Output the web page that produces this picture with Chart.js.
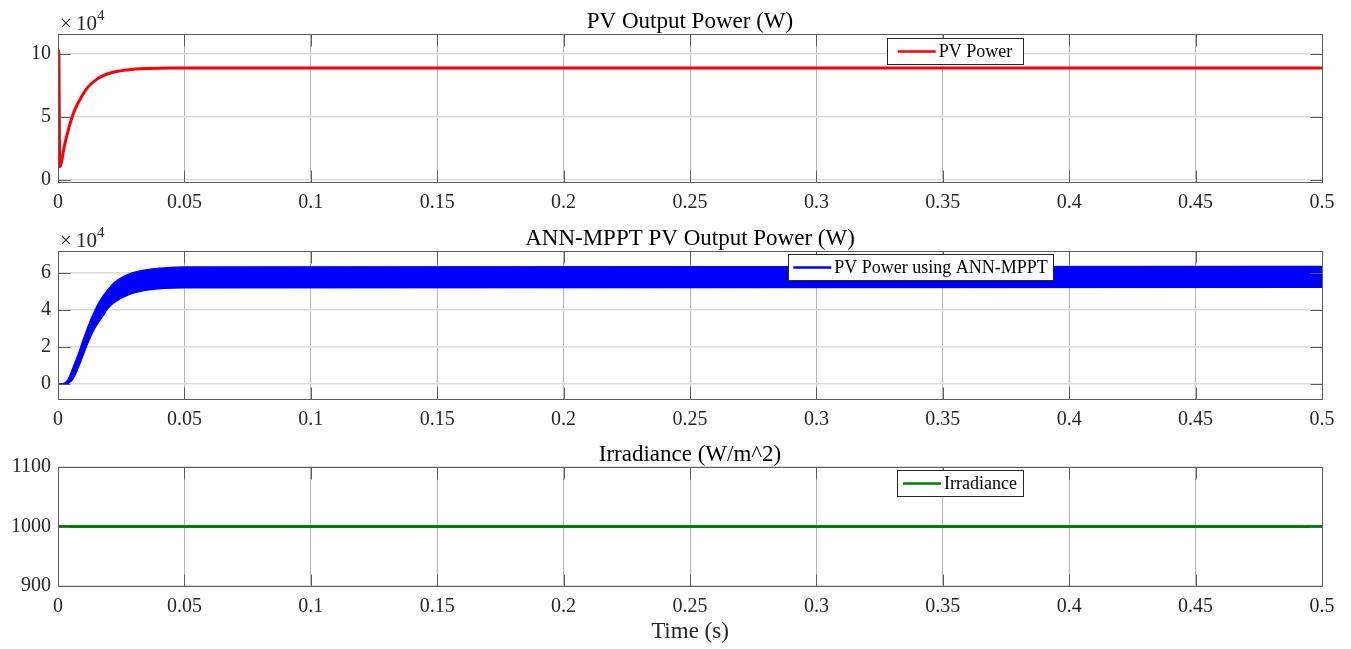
<!DOCTYPE html>
<html>
<head>
<meta charset="utf-8">
<title>PV output power</title>
<script src="https://cdn.jsdelivr.net/npm/chart.js@4.4.1/dist/chart.umd.min.js"></script>
<style>
  body { margin: 0; background: #fff; }
  #fig { position: relative; width: 1351px; height: 649px; }
  .panel { position: absolute; left: 0; width: 1351px; }
</style>
</head>
<body>
<div id="fig">
  <div class="panel" style="top:0;height:215px"><canvas id="c1" width="1351" height="215"></canvas></div>
  <div class="panel" style="top:215px;height:215px"><canvas id="c2" width="1351" height="215"></canvas></div>
  <div class="panel" style="top:430px;height:219px"><canvas id="c3" width="1351" height="219"></canvas></div>
</div>
<script>
const FONT = "'Liberation Serif', 'Times New Roman', serif";

// time axis (s)
const xTicks = [0, 0.05, 0.1, 0.15, 0.2, 0.25, 0.3, 0.35, 0.4, 0.45, 0.5];
const xTickLabels = ['0', '0.05', '0.1', '0.15', '0.2', '0.25', '0.3', '0.35', '0.4', '0.45', '0.5'];

// panel 1 - PV power (W)
const pvTime  = [0, 0.0003, 0.0007, 0.0026, 0.0046, 0.0066, 0.0093, 0.0119, 0.0158, 0.0211, 0.0277, 0.0356, 0.045, 0.5];
const pvPower = [103000, 103000, 10600, 27800, 43700, 55600, 66100, 74000, 80700, 85200, 87500, 88600, 89100, 89100];
const pvTicks = [0, 50000, 100000];
const pvTickLabels = ['0', '5', '10'];

// panel 2 - PV power with ANN-MPPT (W), ripple band
const annTime  = [0, 0.002, 0.004, 0.006, 0.008, 0.010, 0.012, 0.014, 0.016, 0.018, 0.020, 0.022, 0.025, 0.028, 0.032, 0.036, 0.042, 0.050, 0.5];
const annUpper = [0, 300, 2500, 9000, 16000, 24000, 31500, 38000, 43500, 48000, 51500, 54500, 57500, 59500, 61000, 62000, 62800, 63300, 63600];
const annLower = [0, 0, 500, 3000, 9000, 16000, 23000, 29000, 33500, 37500, 41500, 44000, 46500, 48500, 50000, 51000, 51800, 52200, 52400];
const annTicks = [0, 20000, 40000, 60000];
const annTickLabels = ['0', '2', '4', '6'];

// panel 3 - irradiance (W/m^2)
const irrTime = [0, 0.5];
const irradiance = [1000, 1000];
const irrTicks = [900, 1000, 1100];
const irrTickLabels = ['900', '1000', '1100'];

function xy(xs, ys) {
  return xs.map((x, i) => ({ x: x, y: ys[i] }));
}

// box, inner ticks, title, exponent, legend, x label (matlab look)
const matlabAxes = {
  id: 'matlabAxes',
  afterDraw(chart, args, o) {
    const ctx = chart.ctx, a = chart.chartArea;
    const xs = chart.scales.x, ys = chart.scales.y;
    const L = Math.round(a.left) + 0.5, R = Math.round(a.right) + 0.5;
    const T = Math.round(a.top) + 0.5, B = Math.round(a.bottom) + 0.5;
    ctx.save();
    ctx.strokeStyle = '#5c5c5c';
    ctx.lineWidth = 1;
    ctx.beginPath();
    xs.ticks.forEach(t => {
      const px = Math.round(xs.getPixelForValue(t.value)) + 0.5;
      ctx.moveTo(px, B); ctx.lineTo(px, B - 12);
      ctx.moveTo(px, T); ctx.lineTo(px, T + 12);
    });
    ys.ticks.forEach(t => {
      const py = Math.round(ys.getPixelForValue(t.value)) + 0.5;
      ctx.moveTo(L, py); ctx.lineTo(L + 12, py);
      ctx.moveTo(R, py); ctx.lineTo(R - 12, py);
    });
    ctx.stroke();
    ctx.strokeRect(L, T, R - L, B - T);

    // title
    ctx.fillStyle = '#000';
    ctx.font = '23px ' + FONT;
    ctx.textAlign = 'center';
    ctx.textBaseline = 'alphabetic';
    ctx.fillText(o.title, (a.left + a.right) / 2, a.top - 6);

    // x10^n
    if (o.exponent) {
      ctx.fillStyle = '#262626';
      ctx.textAlign = 'left';
      ctx.font = '21px ' + FONT;
      ctx.fillText('\u00d7', a.left + 2, a.top - 4);
      ctx.fillText('10', a.left + 18, a.top - 4);
      ctx.font = '15px ' + FONT;
      ctx.fillText(o.exponent, a.left + 39, a.top - 14);
    }

    // x label
    if (o.xLabel) {
      ctx.fillStyle = '#262626';
      ctx.textAlign = 'center';
      ctx.font = '23px ' + FONT;
      ctx.fillText(o.xLabel, (a.left + a.right) / 2, a.bottom + 52);
    }

    // legend
    const lg = o.legend;
    ctx.font = '18px ' + FONT;
    const tw = ctx.measureText(lg.text).width;
    const pad = (lg.w - (38 + 3 + tw)) / 2;
    ctx.fillStyle = '#fff';
    ctx.fillRect(lg.left, lg.top, lg.w, 26);
    ctx.strokeStyle = '#262626';
    ctx.lineWidth = 1;
    ctx.strokeRect(lg.left + 0.5, lg.top + 0.5, lg.w, 26);
    const cy = lg.top + 13.5;
    ctx.strokeStyle = lg.color;
    ctx.lineWidth = 2.5;
    ctx.beginPath();
    ctx.moveTo(lg.left + pad, cy);
    ctx.lineTo(lg.left + pad + 38, cy);
    ctx.stroke();
    ctx.fillStyle = '#000';
    ctx.textAlign = 'left';
    ctx.textBaseline = 'middle';
    ctx.fillText(lg.text, lg.left + pad + 41, cy + 1);
    ctx.restore();
  }
};

function makeChart(id, datasets, y, axisH, padTop, deco) {
  return new Chart(document.getElementById(id), {
    type: 'line',
    data: { datasets: datasets },
    options: {
      responsive: false,
      animation: false,
      events: [],
      layout: { padding: { left: 0, right: 29, top: padTop, bottom: 0 } },
      plugins: { legend: { display: false }, tooltip: { enabled: false }, matlabAxes: deco },
      scales: {
        x: {
          type: 'linear', min: 0, max: 0.5,
          afterBuildTicks: s => { s.ticks = xTicks.map(v => ({ value: v })); },
          afterFit: s => { s.height = axisH; },
          grid: { color: '#b4b4b4', lineWidth: 1, drawTicks: false },
          border: { display: false },
          ticks: {
            autoSkip: false, maxRotation: 0, padding: 9, color: '#262626',
            font: { family: FONT, size: 20 },
            callback: (v, i) => xTickLabels[i]
          }
        },
        y: {
          type: 'linear', min: y.min, max: y.max,
          afterBuildTicks: s => { s.ticks = y.ticks.map(v => ({ value: v })); },
          afterFit: s => { s.width = 58; },
          grid: { color: '#dcdcdc', lineWidth: 1.5, drawTicks: false },
          border: { display: false },
          ticks: {
            padding: 7, color: '#262626',
            font: { family: FONT, size: 20 },
            callback: (v, i) => y.labels[i]
          }
        }
      }
    },
    plugins: [matlabAxes]
  });
}

// panel 1
makeChart('c1', [{
  label: 'PV Power', data: xy(pvTime, pvPower),
  borderColor: '#ff0000', borderWidth: 3, pointRadius: 0, cubicInterpolationMode: 'monotone'
}], { min: -1500, max: 116000, ticks: pvTicks, labels: pvTickLabels }, 33, 34,
{ title: 'PV Output Power (W)', exponent: '4',
  legend: { text: 'PV Power', color: '#ff0000', left: 887, top: 38, w: 136 } });

// panel 2
makeChart('c2', [{
  label: 'PV Power using ANN-MPPT', data: xy(annTime, annUpper), fill: '+1',
  borderColor: '#0000ff', backgroundColor: '#0000ff', borderWidth: 1.5, pointRadius: 0, cubicInterpolationMode: 'monotone'
}, {
  label: 'lower', data: xy(annTime, annLower),
  borderColor: '#0000ff', borderWidth: 1.5, pointRadius: 0, cubicInterpolationMode: 'monotone'
}], { min: -8000, max: 72000, ticks: annTicks, labels: annTickLabels }, 31, 36,
{ title: 'ANN-MPPT PV Output Power (W)', exponent: '4',
  legend: { text: 'PV Power using ANN-MPPT', color: '#0000ff', left: 788, top: 39, w: 265 } });

// panel 3
makeChart('c3', [{
  label: 'Irradiance', data: xy(irrTime, irradiance),
  borderColor: '#008000', borderWidth: 3, pointRadius: 0
}], { min: 900, max: 1100, ticks: irrTicks, labels: irrTickLabels }, 63, 37,
{ title: 'Irradiance (W/m^2)', xLabel: 'Time (s)',
  legend: { text: 'Irradiance', color: '#008000', left: 897, top: 40, w: 126 } });
</script>
</body>
</html>
